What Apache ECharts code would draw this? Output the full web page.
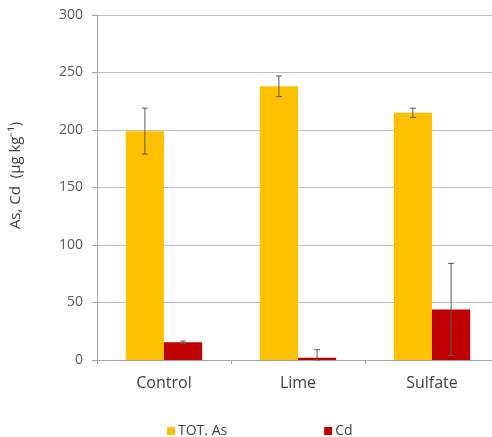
<!DOCTYPE html>
<html><head><meta charset="utf-8">
<script src="https://cdn.jsdelivr.net/npm/echarts@6/dist/echarts.min.js"></script>
<style>html,body{margin:0;padding:0;background:#fff}#c{width:492px;height:437px}</style>
</head><body><div id="c"></div>
<script>
var categories = ['Control', 'Lime', 'Sulfate'];
var totAs = [199, 238, 215];
var totAsErr = [20, 9, 4];
var cd = [15.5, 2, 44];
var cdErr = [1, 7, 40];
var yTicks = [0, 50, 100, 150, 200, 250, 300];

var chart = echarts.init(document.getElementById('c'));
var FONT = '"Open Sans", "Liberation Sans", sans-serif';

function errSeries(vals, errs, idx) {
  var data = vals.map(function (v, i) { return [i, Math.max(0, v - errs[i]), v + errs[i]]; });
  return {
    type: 'custom',
    name: 'err' + idx,
    z: 10,
    silent: true,
    data: data,
    renderItem: function (params, api) {
      var ci = api.value(0);
      var lo = api.coord([ci, api.value(1)]);
      var hi = api.coord([ci, api.value(2)]);
      var size = api.size([1, 0]);
      var bw = size[0] * 0.285;
      var x = lo[0] + (idx === 0 ? -bw / 2 : bw / 2);
      var cap = 3;
      var st = { stroke: '#595959', lineWidth: 1 };
      return {
        type: 'group',
        children: [
          { type: 'line', shape: { x1: x, y1: lo[1], x2: x, y2: hi[1] }, style: st },
          { type: 'line', shape: { x1: x - cap, y1: hi[1], x2: x + cap, y2: hi[1] }, style: st },
          { type: 'line', shape: { x1: x - cap, y1: lo[1], x2: x + cap, y2: lo[1] }, style: st }
        ]
      };
    }
  };
}

chart.setOption({
  animation: false,
  textStyle: { fontFamily: FONT },
  grid: { left: 97, width: 402, top: 15, bottom: 77, outerBoundsMode: 'none', containLabel: false },
  legend: {
    bottom: -6, left: 162, itemGap: 97, itemWidth: 8, itemHeight: 8, icon: 'rect',
    data: ['TOT. As', 'Cd'],
    textStyle: { fontSize: 14, color: '#404040', fontFamily: FONT, padding: [0, 0, 0, -2] }
  },
  xAxis: {
    type: 'category', data: categories,
    axisLine: { lineStyle: { color: '#a6a6a6' } },
    axisTick: { show: true, length: 4, lineStyle: { color: '#a6a6a6' } },
    axisLabel: { fontSize: 16, color: '#404040', margin: 15, fontFamily: FONT }
  },
  yAxis: {
    type: 'value', min: yTicks[0], max: yTicks[yTicks.length - 1], interval: 50,
    name: 'As, Cd  (μg kg⁻¹)', nameLocation: 'middle', nameGap: 74, nameRotate: 90,
    nameTextStyle: { fontSize: 15, color: '#404040', fontFamily: FONT, padding: [0, 0, 0, 24] },
    axisLine: { show: true, lineStyle: { color: '#a6a6a6' } },
    axisTick: { show: true, length: 5, lineStyle: { color: '#a6a6a6' } },
    axisLabel: { fontSize: 14, color: '#595959', margin: 14, fontFamily: FONT },
    splitLine: { lineStyle: { color: '#bfbfbf' } }
  },
  series: [
    { type: 'bar', name: 'TOT. As', data: totAs, itemStyle: { color: '#FFC000' }, barGap: '0%', barCategoryGap: '43%' },
    { type: 'bar', name: 'Cd', data: cd, itemStyle: { color: '#C00000' }, barGap: '0%', barCategoryGap: '43%' },
    errSeries(totAs, totAsErr, 0),
    errSeries(cd, cdErr, 1)
  ]
});
</script></body></html>
